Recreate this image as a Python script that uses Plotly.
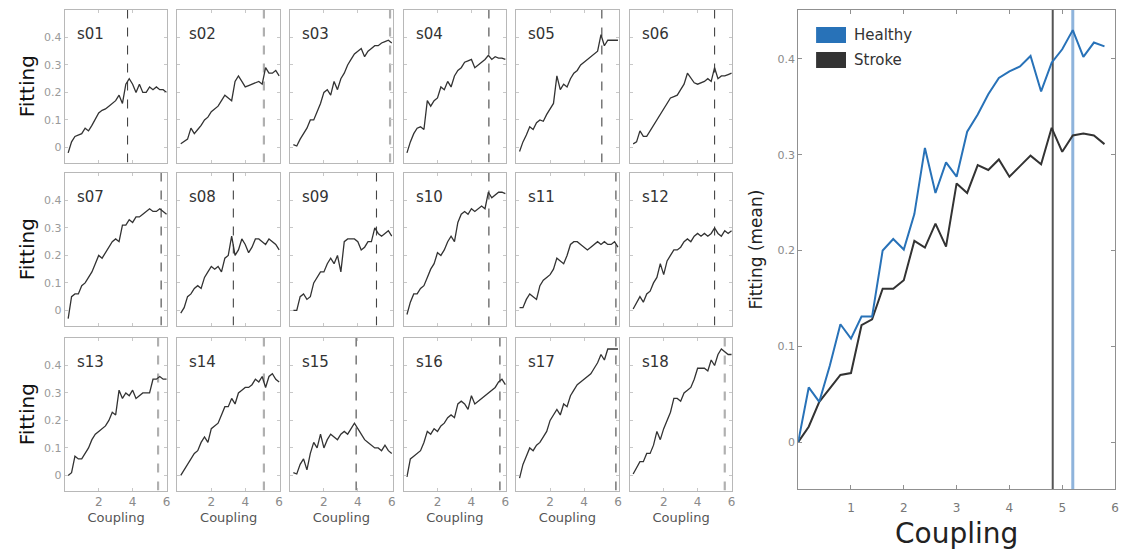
import plotly.graph_objects as go

W, H = 1130, 557

# ---------------- data ----------------
coupling_subj = [0.2, 0.4, 0.6, 0.8, 1.0, 1.2, 1.4, 1.6, 1.8, 2.0,
                 2.2, 2.4, 2.6, 2.8, 3.0, 3.2, 3.4, 3.6, 3.8, 4.0,
                 4.2, 4.4, 4.6, 4.8, 5.0, 5.2, 5.4, 5.6, 5.8, 6.0]

subject_names = ["s01", "s02", "s03", "s04", "s05", "s06",
                 "s07", "s08", "s09", "s10", "s11", "s12",
                 "s13", "s14", "s15", "s16", "s17", "s18"]

s01 = [-0.02, 0.02, 0.04, 0.045, 0.05, 0.07, 0.06, 0.08, 0.10, 0.125, 0.135, 0.14, 0.15, 0.16, 0.17, 0.19, 0.16, 0.23, 0.25, 0.23, 0.20, 0.23, 0.20, 0.20, 0.22, 0.21, 0.22, 0.21, 0.21, 0.20]
s02 = [0.013, 0.02, 0.03, 0.07, 0.05, 0.065, 0.08, 0.10, 0.11, 0.13, 0.14, 0.15, 0.17, 0.19, 0.18, 0.17, 0.24, 0.26, 0.24, 0.22, 0.225, 0.23, 0.235, 0.24, 0.23, 0.29, 0.27, 0.27, 0.28, 0.26]
s03 = [0.01, 0.005, 0.03, 0.05, 0.07, 0.10, 0.10, 0.13, 0.16, 0.20, 0.21, 0.19, 0.24, 0.21, 0.25, 0.27, 0.30, 0.32, 0.34, 0.35, 0.36, 0.33, 0.35, 0.36, 0.37, 0.37, 0.38, 0.385, 0.39, 0.38]
s04 = [-0.02, 0.02, 0.05, 0.07, 0.075, 0.065, 0.17, 0.15, 0.17, 0.18, 0.22, 0.21, 0.24, 0.22, 0.26, 0.28, 0.29, 0.31, 0.315, 0.32, 0.29, 0.30, 0.31, 0.32, 0.335, 0.32, 0.33, 0.325, 0.325, 0.32]
s05 = [-0.015, 0.02, 0.045, 0.075, 0.065, 0.09, 0.10, 0.095, 0.12, 0.14, 0.16, 0.26, 0.21, 0.23, 0.22, 0.25, 0.27, 0.28, 0.30, 0.31, 0.32, 0.33, 0.34, 0.35, 0.41, 0.37, 0.39, 0.39, 0.39, 0.39]
s06 = [0.013, 0.02, 0.06, 0.04, 0.04, 0.06, 0.08, 0.10, 0.125, 0.14, 0.16, 0.18, 0.185, 0.19, 0.21, 0.23, 0.27, 0.25, 0.235, 0.23, 0.235, 0.24, 0.25, 0.24, 0.29, 0.25, 0.26, 0.26, 0.265, 0.27]
s07 = [-0.03, 0.05, 0.06, 0.06, 0.09, 0.10, 0.12, 0.14, 0.17, 0.20, 0.19, 0.21, 0.23, 0.25, 0.26, 0.25, 0.31, 0.31, 0.33, 0.32, 0.34, 0.34, 0.35, 0.36, 0.37, 0.36, 0.36, 0.37, 0.36, 0.35]
s08 = [-0.01, 0.01, 0.05, 0.06, 0.08, 0.09, 0.08, 0.12, 0.14, 0.16, 0.15, 0.16, 0.14, 0.19, 0.20, 0.27, 0.20, 0.22, 0.26, 0.24, 0.21, 0.23, 0.26, 0.26, 0.25, 0.24, 0.26, 0.25, 0.24, 0.22]
s09 = [0.0, 0.0, 0.05, 0.06, 0.04, 0.05, 0.10, 0.12, 0.14, 0.14, 0.17, 0.19, 0.17, 0.20, 0.14, 0.25, 0.26, 0.26, 0.26, 0.25, 0.22, 0.23, 0.25, 0.25, 0.30, 0.28, 0.27, 0.28, 0.29, 0.27]
s10 = [-0.015, 0.03, 0.06, 0.06, 0.08, 0.09, 0.12, 0.15, 0.17, 0.21, 0.20, 0.22, 0.25, 0.27, 0.25, 0.32, 0.35, 0.36, 0.35, 0.37, 0.36, 0.37, 0.38, 0.37, 0.43, 0.41, 0.42, 0.43, 0.43, 0.425]
s11 = [0.01, 0.01, 0.04, 0.06, 0.05, 0.04, 0.09, 0.11, 0.12, 0.13, 0.15, 0.19, 0.18, 0.17, 0.20, 0.24, 0.25, 0.25, 0.24, 0.23, 0.22, 0.23, 0.24, 0.25, 0.24, 0.25, 0.24, 0.24, 0.25, 0.23]
s12 = [0.005, 0.03, 0.05, 0.03, 0.06, 0.07, 0.10, 0.12, 0.17, 0.13, 0.18, 0.20, 0.22, 0.22, 0.23, 0.25, 0.26, 0.25, 0.27, 0.28, 0.27, 0.28, 0.27, 0.28, 0.30, 0.28, 0.27, 0.29, 0.28, 0.29]
s13 = [0.0, 0.01, 0.07, 0.06, 0.06, 0.08, 0.10, 0.13, 0.15, 0.16, 0.17, 0.18, 0.20, 0.23, 0.22, 0.31, 0.28, 0.30, 0.29, 0.31, 0.28, 0.29, 0.30, 0.30, 0.30, 0.35, 0.35, 0.36, 0.35, 0.35]
s14 = [0.0, 0.02, 0.04, 0.06, 0.08, 0.09, 0.12, 0.14, 0.12, 0.17, 0.18, 0.19, 0.22, 0.25, 0.25, 0.28, 0.26, 0.30, 0.31, 0.32, 0.32, 0.33, 0.35, 0.34, 0.36, 0.32, 0.36, 0.37, 0.35, 0.34]
s15 = [0.01, 0.005, 0.04, 0.06, 0.02, 0.08, 0.12, 0.10, 0.15, 0.10, 0.13, 0.15, 0.14, 0.13, 0.15, 0.16, 0.15, 0.17, 0.19, 0.17, 0.15, 0.13, 0.12, 0.11, 0.10, 0.10, 0.09, 0.11, 0.09, 0.08]
s16 = [-0.005, 0.06, 0.07, 0.08, 0.09, 0.12, 0.16, 0.15, 0.17, 0.16, 0.18, 0.19, 0.21, 0.22, 0.21, 0.26, 0.27, 0.26, 0.24, 0.29, 0.26, 0.27, 0.28, 0.29, 0.30, 0.31, 0.32, 0.34, 0.35, 0.33]
s17 = [-0.01, 0.04, 0.07, 0.10, 0.09, 0.11, 0.12, 0.14, 0.16, 0.20, 0.22, 0.24, 0.22, 0.26, 0.25, 0.29, 0.31, 0.33, 0.34, 0.35, 0.36, 0.37, 0.39, 0.41, 0.44, 0.42, 0.46, 0.46, 0.46, 0.46]
s18 = [0.005, 0.03, 0.05, 0.05, 0.08, 0.08, 0.11, 0.16, 0.13, 0.17, 0.20, 0.23, 0.28, 0.28, 0.27, 0.30, 0.31, 0.32, 0.35, 0.39, 0.39, 0.39, 0.38, 0.42, 0.40, 0.44, 0.46, 0.45, 0.44, 0.44]

subject_values = [s01, s02, s03, s04, s05, s06, s07, s08, s09,
                  s10, s11, s12, s13, s14, s15, s16, s17, s18]

# optimal coupling per subject (dashed line) and group (True = light dashed)
subject_optimum = [3.7, 5.1, 5.9, 5.03, 5.05, 5.0,
                   5.68, 3.3, 5.1, 5.03, 5.88, 5.0,
                   5.5, 5.1, 3.9, 5.68, 5.88, 5.6]
subject_light = [False, True, True, False, False, False,
                 False, False, False, False, False, False,
                 True, True, False, False, False, True]

coupling_mean = [0.0, 0.2, 0.4, 0.6, 0.8, 1.0, 1.2, 1.4, 1.6, 1.8,
                 2.0, 2.2, 2.4, 2.6, 2.8, 3.0, 3.2, 3.4, 3.6, 3.8,
                 4.0, 4.2, 4.4, 4.6, 4.8, 5.0, 5.2, 5.4, 5.6, 5.8]
healthy_mean = [0.0, 0.057, 0.042, 0.08, 0.123, 0.108, 0.131, 0.131, 0.20, 0.212,
                0.201, 0.238, 0.307, 0.26, 0.292, 0.277, 0.324, 0.342, 0.363, 0.38,
                0.387, 0.392, 0.403, 0.366, 0.396, 0.41, 0.43, 0.402, 0.417, 0.413]
stroke_mean = [0.0, 0.016, 0.042, 0.056, 0.07, 0.072, 0.122, 0.128, 0.16, 0.16,
               0.169, 0.21, 0.203, 0.228, 0.204, 0.27, 0.26, 0.289, 0.284, 0.295,
               0.277, 0.288, 0.299, 0.29, 0.328, 0.303, 0.32, 0.322, 0.32, 0.311]
healthy_optimum = 5.2
stroke_optimum = 4.82

# ---------------- layout ----------------
col_left = [65, 178, 291, 405, 518, 632]
panel_w = 103
row_top = [10, 173, 338]
panel_h = 152.5

BLUE = "#2872b8"
DARK = "#333333"
FONT = "DejaVu Sans"

fig = go.Figure()
layout = dict(
    width=W, height=H,
    margin=dict(l=0, r=0, t=0, b=0),
    paper_bgcolor="white", plot_bgcolor="white",
    showlegend=False,
    font=dict(family=FONT),
)
shapes = []
annotations = []

for i, (name, vals) in enumerate(zip(subject_names, subject_values)):
    r, c = divmod(i, 6)
    n = i + 1
    xa = "xaxis" if n == 1 else f"xaxis{n}"
    ya = "yaxis" if n == 1 else f"yaxis{n}"
    xr = "x" if n == 1 else f"x{n}"
    yr = "y" if n == 1 else f"y{n}"
    x0 = col_left[c] / W
    x1 = (col_left[c] + panel_w) / W
    y1 = 1 - row_top[r] / H
    y0 = 1 - (row_top[r] + panel_h) / H
    layout[xa] = dict(
        domain=[x0, x1], anchor=yr, range=[0, 6.05],
        showgrid=False, zeroline=False,
        showline=True, linecolor="#b8b8b8", linewidth=1, mirror="ticks",
        ticks="inside", ticklen=3, tickcolor="#c8c8c8",
        tickvals=[2, 4, 6], showticklabels=(r == 2),
        tickfont=dict(size=12, color="#8a8a8a", family=FONT),
    )
    if r == 2:
        layout[xa]["title"] = dict(text="Coupling", standoff=4,
                                   font=dict(size=13, color="#555555", family=FONT))
    layout[ya] = dict(
        domain=[y0, y1], anchor=xr, range=[-0.055, 0.5],
        showgrid=False, zeroline=False,
        showline=True, linecolor="#b8b8b8", linewidth=1, mirror="ticks",
        ticks="inside", ticklen=3, tickcolor="#c8c8c8",
        tickvals=[0, 0.1, 0.2, 0.3, 0.4], ticktext=["0", "0.1", "0.2", "0.3", "0.4"],
        showticklabels=(c == 0),
        tickfont=dict(size=11, color="#9a9a9a", family=FONT),
    )
    if c == 0:
        layout[ya]["title"] = dict(text="Fitting", standoff=4,
                                   font=dict(size=20, color="#111111", family=FONT))
    # optimum dashed line
    opt = subject_optimum[i]
    light = subject_light[i]
    fig.add_trace(go.Scatter(
        x=[opt, opt], y=[-0.055, 0.5], xaxis=xr, yaxis=yr, mode="lines",
        line=dict(color="#b0b0b0" if light else "#444444",
                  width=2.2 if light else 1.1, dash="dash"),
        hoverinfo="skip"))
    fig.add_trace(go.Scatter(
        x=coupling_subj, y=vals, xaxis=xr, yaxis=yr, mode="lines",
        line=dict(color=DARK, width=1.3), name=name))
    annotations.append(dict(
        text=name, xref="paper", yref="paper",
        x=(col_left[c] + 10) / W, y=1 - (row_top[r] + 24) / H,
        xanchor="left", yanchor="middle", showarrow=False,
        font=dict(size=15, color="#333333", family=FONT)))

# ---------------- right panel ----------------
rx0, rx1, ry0, ry1 = 801, 1119, 10, 489
layout["xaxis19"] = dict(
    domain=[rx0 / W, rx1 / W], anchor="y19", range=[0, 6],
    showgrid=False, zeroline=False,
    showline=True, linecolor="#909090", linewidth=1, mirror="ticks",
    ticks="inside", ticklen=4, tickcolor="#909090",
    tickvals=[1, 2, 3, 4, 5, 6], ticklabelstandoff=8,
    tickfont=dict(size=12, color="#777777", family=FONT),
    title=dict(text="Coupling", standoff=8,
               font=dict(size=28, color="#222222", family=FONT)),
)
layout["yaxis19"] = dict(
    domain=[1 - ry1 / H, 1 - ry0 / H], anchor="x19", range=[-0.049, 0.451],
    showgrid=False, zeroline=False,
    showline=True, linecolor="#909090", linewidth=1, mirror="ticks",
    ticks="inside", ticklen=4, tickcolor="#909090",
    tickvals=[0, 0.1, 0.2, 0.3, 0.4], ticktext=["0", "0.1", "0.2", "0.3", "0.4"],
    tickfont=dict(size=11, color="#8a8a8a", family=FONT),
    title=dict(text="Fitting (mean)", standoff=10,
               font=dict(size=17, color="#222222", family=FONT)),
)
fig.add_trace(go.Scatter(x=[stroke_optimum, stroke_optimum], y=[-0.049, 0.451],
                         xaxis="x19", yaxis="y19", mode="lines",
                         line=dict(color="#555555", width=2), hoverinfo="skip"))
fig.add_trace(go.Scatter(x=[healthy_optimum, healthy_optimum], y=[-0.049, 0.451],
                         xaxis="x19", yaxis="y19", mode="lines",
                         line=dict(color="#8fb4dc", width=3), hoverinfo="skip"))
fig.add_trace(go.Scatter(x=coupling_mean, y=stroke_mean, xaxis="x19", yaxis="y19",
                         mode="lines", line=dict(color=DARK, width=2), name="Stroke"))
fig.add_trace(go.Scatter(x=coupling_mean, y=healthy_mean, xaxis="x19", yaxis="y19",
                         mode="lines", line=dict(color=BLUE, width=2), name="Healthy"))

# legend (drawn manually to match swatch style)
legend_items = [("Healthy", BLUE), ("Stroke", DARK)]
for k, (lab, col) in enumerate(legend_items):
    ytop = 27 + k * 25
    shapes.append(dict(type="rect", xref="paper", yref="paper",
                       x0=819 / W, x1=849 / W, y0=1 - (ytop + 16) / H, y1=1 - ytop / H,
                       fillcolor=col, line=dict(width=0)))
    annotations.append(dict(text=lab, xref="paper", yref="paper",
                            x=855 / W, y=1 - (ytop + 8) / H, xanchor="left", yanchor="middle",
                            showarrow=False, font=dict(size=15, color="#333333", family=FONT)))

layout["shapes"] = shapes
layout["annotations"] = annotations
fig.update_layout(**layout)
fig.write_html("out.html")
